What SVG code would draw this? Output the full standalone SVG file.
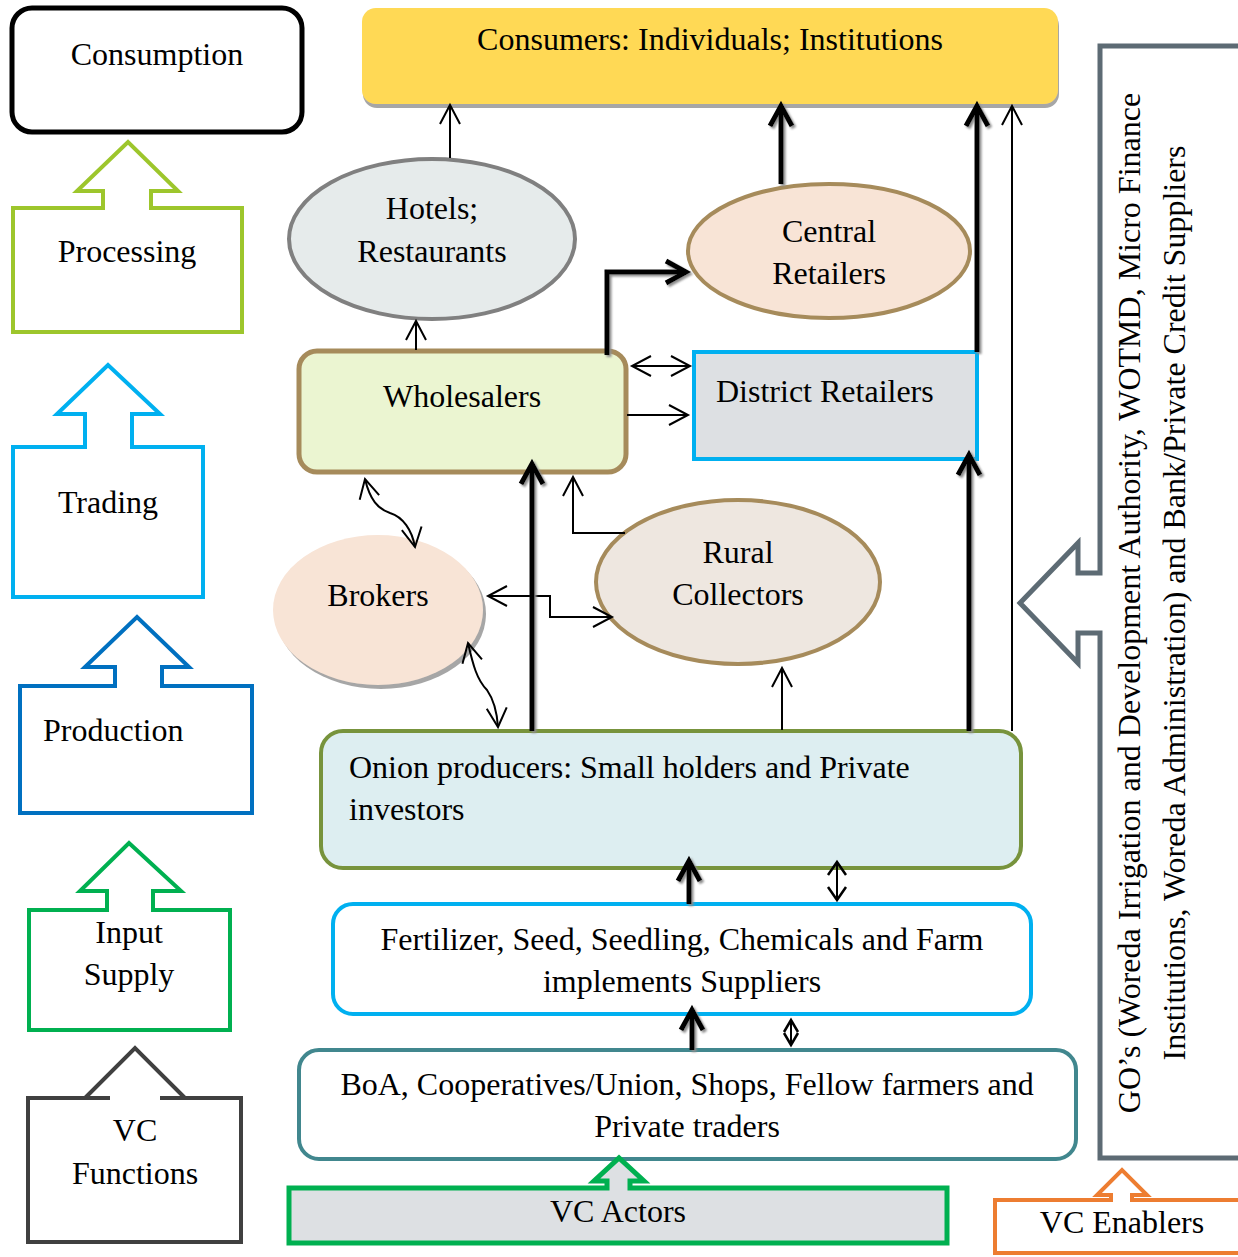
<svg xmlns="http://www.w3.org/2000/svg" width="1238" height="1257" viewBox="0 0 1238 1257">
<style>
.t{font-family:"Liberation Serif","Times New Roman",serif;font-size:32px;fill:#000}
.m{text-anchor:middle}
.thin{fill:none;stroke:#000;stroke-width:2}
.thick{fill:none;stroke:#000;stroke-width:5}
.fn{fill:#fff;stroke-width:4}
</style>
<defs>
<marker id="a" viewBox="-24 -14 28 28" refX="0" refY="0" markerWidth="28" markerHeight="28" markerUnits="userSpaceOnUse" orient="auto-start-reverse" overflow="visible"><path d="M-19,-10 L0,0 L-19,10" fill="none" stroke="#000" stroke-width="2"/></marker>
<marker id="A" viewBox="-26 -16 32 32" refX="0" refY="0" markerWidth="32" markerHeight="32" markerUnits="userSpaceOnUse" orient="auto" overflow="visible"><path d="M-20,-11 L0,0 L-20,11" fill="none" stroke="#000" stroke-width="5"/></marker>
<marker id="b" viewBox="-18 -12 22 24" refX="0" refY="0" markerWidth="22" markerHeight="24" markerUnits="userSpaceOnUse" orient="auto-start-reverse" overflow="visible"><path d="M-13,-9 L0,0 L-13,9" fill="none" stroke="#000" stroke-width="2.5"/></marker>
<marker id="c" viewBox="-14 -10 18 20" refX="0" refY="0" markerWidth="18" markerHeight="20" markerUnits="userSpaceOnUse" orient="auto-start-reverse" overflow="visible"><path d="M-12,-7 L0,0 L-12,7" fill="none" stroke="#000" stroke-width="2.5"/></marker>
<filter id="sh" x="-20%" y="-20%" width="140%" height="140%"><feDropShadow dx="2" dy="2" stdDeviation="0.8" flood-color="#8c8c8c"/></filter>
<filter id="sh2" x="-10%" y="-10%" width="120%" height="130%"><feDropShadow dx="1" dy="4" stdDeviation="0.5" flood-color="#a6a6a6"/></filter>
<filter id="sh3" x="-10%" y="-10%" width="120%" height="130%"><feDropShadow dx="3" dy="4" stdDeviation="0.5" flood-color="#a6a6a6"/></filter>
</defs>

<!-- Left column: VC functions -->
<g id="consumption">
<rect x="12" y="8" width="290" height="124" rx="20" fill="#fff" stroke="#000" stroke-width="5"/>
<text class="t m" x="157" y="65">Consumption</text>
</g>
<g id="processing">
<path class="fn" stroke="#9DC62C" d="M13,208 L103,208 L103,191 L77,191 L128,142 L178,191 L151,191 L151,208 L242,208 L242,332 L13,332 Z"/>
<text class="t m" x="127" y="262">Processing</text>
</g>
<g id="trading">
<path class="fn" stroke="#00B0F0" d="M13,447 L85,447 L85,414 L57,414 L108,365 L160,414 L132,414 L132,447 L203,447 L203,597 L13,597 Z"/>
<text class="t m" x="108" y="513">Trading</text>
</g>
<g id="production">
<path class="fn" stroke="#0070C0" d="M20,686 L115,686 L115,667 L85,667 L137,617 L189,667 L162,667 L162,686 L252,686 L252,813 L20,813 Z"/>
<text class="t" x="43" y="741">Production</text>
</g>
<g id="input-supply">
<path class="fn" stroke="#00B050" d="M29,910 L107,910 L107,891 L80,891 L129,843 L181,891 L153,891 L153,910 L230,910 L230,1030 L29,1030 Z"/>
<text class="t m" x="129" y="943">Input</text>
<text class="t m" x="129" y="985">Supply</text>
</g>
<g id="vc-functions">
<path class="fn" stroke="#404040" d="M110,1098 L28,1098 L28,1242 L241,1242 L241,1098 L160,1098 M85,1098 L135,1048 L185,1098"/>
<text class="t m" x="135" y="1141">VC</text>
<text class="t m" x="135" y="1184">Functions</text>
</g>

<!-- Actors -->
<g id="consumers">
<rect x="362" y="8" width="696" height="96" rx="14" fill="#FFD954" filter="url(#sh2)"/>
<text class="t m" x="710" y="50">Consumers: Individuals; Institutions</text>
</g>
<g id="hotels">
<ellipse cx="432" cy="239" rx="143" ry="80" fill="#E6EBEB" stroke="#808080" stroke-width="4"/>
<text class="t m" x="432" y="219">Hotels;</text>
<text class="t m" x="432" y="262">Restaurants</text>
</g>
<g id="central-retailers">
<ellipse cx="829" cy="251" rx="141" ry="67" fill="#F8E4D6" stroke="#A68B5B" stroke-width="4"/>
<text class="t m" x="829" y="242">Central</text>
<text class="t m" x="829" y="284">Retailers</text>
</g>
<g id="wholesalers">
<rect x="299" y="351" width="327" height="121" rx="18" fill="#EBF5D1" stroke="#A68B5B" stroke-width="5"/>
<text class="t m" x="462" y="407">Wholesalers</text>
</g>
<g id="district-retailers">
<rect x="694" y="352" width="283" height="107" fill="#DDE0E3" stroke="#00B0F0" stroke-width="4"/>
<text class="t" x="716" y="402">District Retailers</text>
</g>
<g id="brokers">
<ellipse cx="378" cy="610" rx="105" ry="75" fill="#F8E4D6" filter="url(#sh3)"/>
<text class="t m" x="378" y="606">Brokers</text>
</g>
<g id="rural-collectors">
<ellipse cx="738" cy="582" rx="142" ry="82" fill="#EEE7E0" stroke="#A68B5B" stroke-width="4"/>
<text class="t m" x="738" y="563">Rural</text>
<text class="t m" x="738" y="605">Collectors</text>
</g>
<g id="producers">
<rect x="321" y="731" width="700" height="137" rx="22" fill="#DDEEF1" stroke="#77933C" stroke-width="4"/>
<text class="t" x="349" y="778">Onion producers: Small holders and Private</text>
<text class="t" x="349" y="820">investors</text>
</g>
<g id="input-suppliers">
<rect x="333" y="904" width="698" height="110" rx="20" fill="#fff" stroke="#00B0F0" stroke-width="4"/>
<text class="t m" x="682" y="950">Fertilizer, Seed, Seedling, Chemicals and Farm</text>
<text class="t m" x="682" y="992">implements Suppliers</text>
</g>
<g id="boa">
<rect x="299" y="1050" width="777" height="109" rx="20" fill="#fff" stroke="#41878E" stroke-width="4"/>
<text class="t m" x="687" y="1095">BoA, Cooperatives/Union, Shops, Fellow farmers and</text>
<text class="t m" x="687" y="1137">Private traders</text>
</g>
<g id="vc-actors">
<path d="M289,1188 L607,1188 L607,1181 L594,1181 L619,1158 L644,1181 L630,1181 L630,1188 L947,1188 L947,1243 L289,1243 Z" fill="#DDE0E3" stroke="#00B050" stroke-width="5"/>
<text class="t m" x="618" y="1222">VC Actors</text>
</g>
<g id="enablers">
<path d="M1240,46 L1100,46 L1100,573 L1078,573 L1078,543 L1020,603 L1078,663 L1078,633 L1100,633 L1100,1158 L1240,1158" fill="#fff" stroke="#5D6B74" stroke-width="5"/>
<text class="t m" transform="translate(1140,603) rotate(-90)">GO’s (Woreda Irrigation and Development Authority, WOTMD, Micro Finance</text>
<text class="t m" transform="translate(1185,603) rotate(-90)">Institutions, Woreda Administration) and Bank/Private Credit Suppliers</text>
</g>
<g id="vc-enablers">
<path d="M995,1200 L1111,1200 L1111,1195 L1097,1195 L1122,1170 L1147,1195 L1132,1195 L1132,1200 L1245,1200 L1245,1253 L995,1253 Z" fill="#fff" stroke="#ED7D31" stroke-width="4"/>
<text class="t m" x="1122" y="1233">VC Enablers</text>
</g>

<!-- Connectors -->
<g id="connectors">
<g class="thin-set">
<path class="thin" d="M450,158 V105" marker-end="url(#a)"/>
<path class="thin" d="M416,350 V321" marker-end="url(#a)"/>
<path class="thin" d="M1012,731 V106" marker-end="url(#a)"/>
<path class="thin" d="M627,415 H688" marker-end="url(#a)"/>
<path class="thin" d="M632,366 H690" marker-start="url(#a)" marker-end="url(#a)"/>
<path class="thin" d="M625,533 H573 V477" marker-end="url(#a)"/>
<path class="thin" d="M488,596 H550 V617 H612" marker-start="url(#a)" marker-end="url(#a)"/>
<path class="thin" d="M782,730 V668" marker-end="url(#a)"/>
<path class="thin" d="M365,479 C370,500 378,509 390,513 C403,517 412,530 415,547" marker-start="url(#a)" marker-end="url(#a)"/>
<path class="thin" d="M468,643 C473,665 477,680 487,690 C494,700 497,712 498,727" marker-start="url(#a)" marker-end="url(#a)"/>
<path class="thin" d="M837,862 V900" marker-start="url(#b)" marker-end="url(#b)"/>
<path class="thin" d="M791,1020 V1045" marker-start="url(#c)" marker-end="url(#c)"/>
</g>
<g class="thick-set" filter="url(#sh)">
<path class="thick" d="M781,184 V106" marker-end="url(#A)"/>
<path class="thick" d="M607,355 V272 H686" marker-end="url(#A)"/>
<path class="thick" d="M977,352 V106" marker-end="url(#A)"/>
<path class="thick" d="M969,731 V455" marker-end="url(#A)"/>
<path class="thick" d="M532,731 V464" marker-end="url(#A)"/>
<path class="thick" d="M689,904 V861" marker-end="url(#A)"/>
<path class="thick" d="M692,1050 V1010" marker-end="url(#A)"/>
</g>
</g>
</svg>
